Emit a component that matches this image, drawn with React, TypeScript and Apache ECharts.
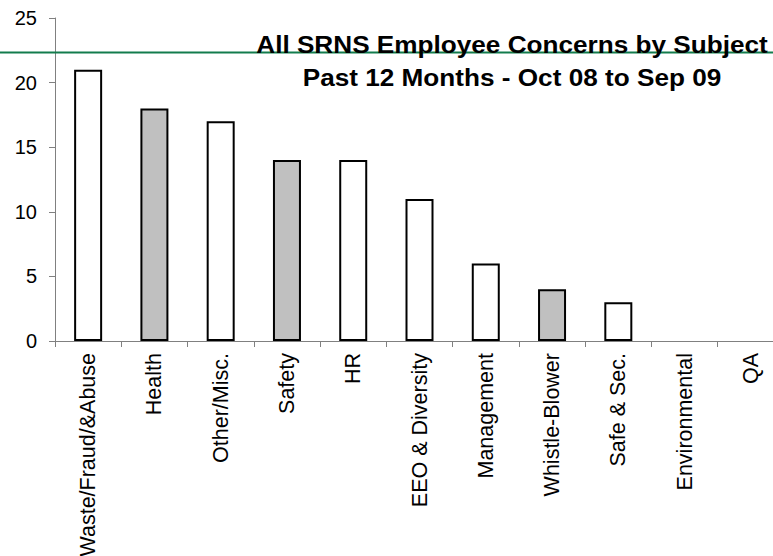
import React, { useEffect, useRef } from "react";
import * as echarts from "echarts";

const categories = [
  "Waste/Fraud/&Abuse",
  "Health",
  "Other/Misc.",
  "Safety",
  "HR",
  "EEO & Diversity",
  "Management",
  "Whistle-Blower",
  "Safe & Sec.",
  "Environmental",
  "QA",
];
const counts = [21, 18, 17, 14, 14, 11, 6, 4, 3, 0, 0];
const shadedCategories = ["Health", "Safety", "Whistle-Blower"];
const yTicks = [0, 5, 10, 15, 20, 25];
const titleLines = [
  "All SRNS Employee Concerns by Subject",
  "Past 12 Months - Oct 08 to Sep 09",
];

const FONT = '"Liberation Sans", Arial, sans-serif';

export default function App() {
  const ref = useRef<HTMLDivElement>(null);

  useEffect(() => {
    if (!ref.current) return;
    const chart = echarts.init(ref.current, null, { renderer: "svg" });
    const barData = counts.map((v, i) => ({
      value: v,
      itemStyle: {
        color: shadedCategories.includes(categories[i]) ? "#c0c0c0" : "#ffffff",
        borderColor: "#000000",
        borderWidth: v === 0 ? 0 : 2,
      },
    }));
    chart.setOption({
      animation: false,
      backgroundColor: "#ffffff",
      grid: {
        left: 55,
        top: 18,
        right: -11,
        bottom: 215,
        containLabel: false,
        outerBoundsMode: "none",
      },
      xAxis: {
        type: "category",
        data: categories,
        axisLine: { lineStyle: { color: "#808080", width: 1 } },
        axisTick: { show: true, alignWithLabel: false, length: 6, lineStyle: { color: "#808080" } },
        axisLabel: {
          rotate: 90,
          interval: 0,
          margin: 12,
          color: "#000000",
          fontFamily: FONT,
          fontSize: 21.5,
        },
        splitLine: { show: false },
      },
      yAxis: {
        type: "value",
        min: yTicks[0],
        max: yTicks[yTicks.length - 1],
        interval: 5,
        axisLine: { show: true, lineStyle: { color: "#808080", width: 1 } },
        axisTick: { show: true, length: 6, lineStyle: { color: "#808080" } },
        axisLabel: {
          margin: 18,
          color: "#000000",
          fontFamily: FONT,
          fontSize: 20,
        },
        splitLine: { show: false },
      },
      series: [
        {
          type: "bar",
          data: barData,
          barWidth: 28,
        },
      ],
      graphic: [
        {
          type: "line",
          z: 10,
          shape: { x1: 0, y1: 52.5, x2: 773, y2: 52.5 },
          style: { stroke: "#137c4d", lineWidth: 2 },
        },
        {
          type: "text",
          z: 20,
          x: 512,
          y: 44,
          scaleX: 1.09,
          style: {
            text: titleLines[0],
            fontFamily: FONT,
            fontWeight: "bold",
            fontSize: 24,
            fill: "#000000",
            align: "center",
            verticalAlign: "middle",
          },
        },
        {
          type: "text",
          z: 20,
          x: 512,
          y: 77,
          scaleX: 1.09,
          style: {
            text: titleLines[1],
            fontFamily: FONT,
            fontWeight: "bold",
            fontSize: 24,
            fill: "#000000",
            align: "center",
            verticalAlign: "middle",
          },
        },
      ],
    });
    return () => chart.dispose();
  }, []);

  return (
    <div
      ref={ref}
      style={{ position: "absolute", left: 0, top: 0, width: 773, height: 556, background: "#fff" }}
    />
  );
}
